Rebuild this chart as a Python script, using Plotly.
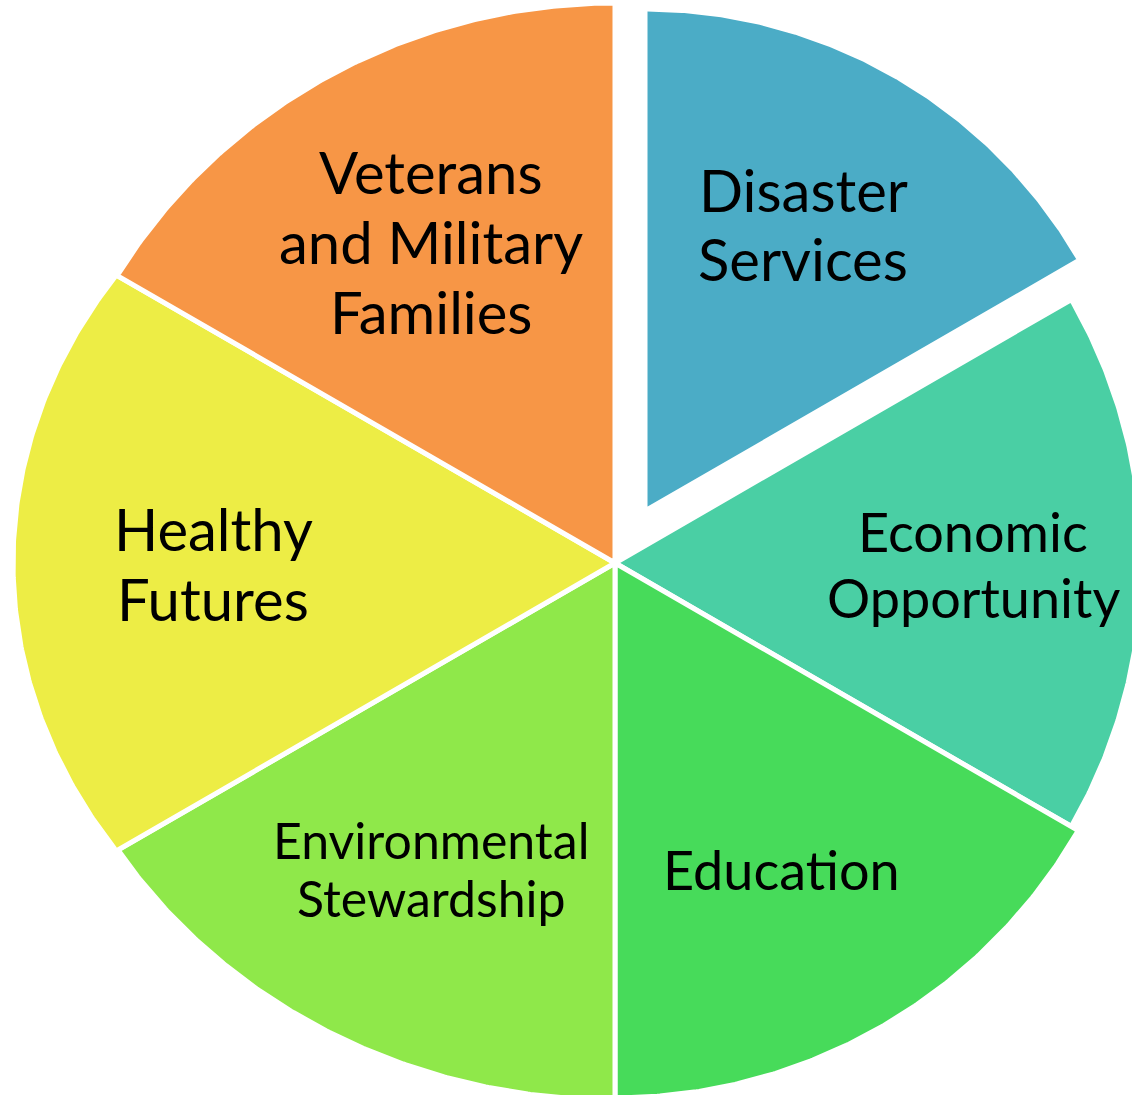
import numpy as np
import plotly.graph_objects as go

# ---- data ----
categories = ["Disaster Services", "Economic Opportunity", "Education",
              "Environmental Stewardship", "Healthy Futures",
              "Veterans and Military Families"]
values = [1, 1, 1, 1, 1, 1]
label_lines = [["Disaster", "Services"], ["Economic", "Opportunity"], ["Education"],
               ["Environmental", "Stewardship"], ["Healthy", "Futures"],
               ["Veterans", "and Military", "Families"]]

# ---- style / geometry ----
colors = ["#4BACC6", "#4ACFA4", "#47DB5A", "#8FE84A", "#EDED45", "#F79646"]
radii = [(502, 502), (527, 527), (535, 535), (588, 537), (602, 514), (580, 560)]
explode = [60, 0, 0, 0, 0, 0]
center = (615, 563)
label_pos = [(803, [189, 258], 58), (973, [531, 597], 54), (781, [869], 54),
             (431, [840, 898], 50), (213, [528, 598], 58), (431, [171, 241, 311], 58)]

fig = go.Figure()
total = sum(values)
start = 90.0
for i, v in enumerate(values):
    span = 360.0 * v / total
    a0, a1 = start, start - span
    mid = np.radians((a0 + a1) / 2)
    cx = center[0] + explode[i] * np.cos(mid)
    cy = center[1] - explode[i] * np.sin(mid)
    rx, ry = radii[i]
    th = np.radians(np.linspace(a0, a1, 200))
    r = 1.0 / np.sqrt((np.cos(th) / rx) ** 2 + (np.sin(th) / ry) ** 2)
    xs = np.concatenate([[cx], cx + r * np.cos(th), [cx]])
    ys = np.concatenate([[cy], cy - r * np.sin(th), [cy]])
    fig.add_trace(go.Scatter(x=xs, y=ys, mode="lines", fill="toself",
                             fillcolor=colors[i], line=dict(color="white", width=5),
                             name=categories[i], hoverinfo="name", showlegend=False))
    start = a1

for lines, (lx, lys, fs) in zip(label_lines, label_pos):
    for txt, ly in zip(lines, lys):
        fig.add_annotation(x=lx, y=ly, text=txt, showarrow=False,
                           xanchor="center", yanchor="middle",
                           font=dict(family="Lato", size=fs, color="black"))

fig.update_layout(width=1132, height=1095, margin=dict(l=0, r=0, t=0, b=0),
                  paper_bgcolor="white", plot_bgcolor="white",
                  xaxis=dict(range=[0, 1132], visible=False, fixedrange=True),
                  yaxis=dict(range=[1095, 0], visible=False, fixedrange=True))
fig.write_html("out.html", config={"displayModeBar": False},
               post_script="document.body.style.margin='0';"
                           "document.body.style.overflow='hidden';")
